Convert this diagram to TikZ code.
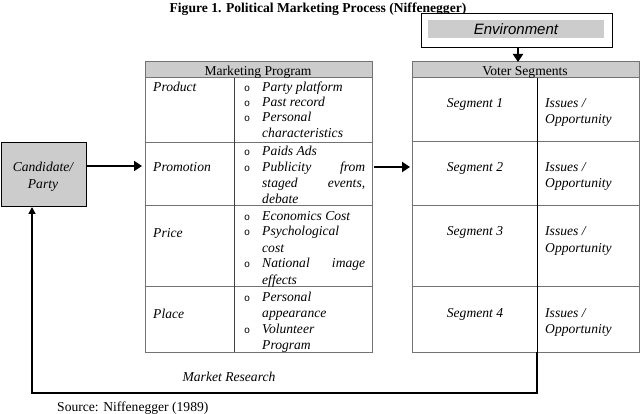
\documentclass[tikz,border=0pt]{standalone}
\usepackage{fontspec}
\setmainfont{Liberation Serif}
\newfontfamily\arialfont{Liberation Sans}
\newfontfamily\bulfont{Liberation Mono}
\usetikzlibrary{arrows.meta}
\newcommand{\jline}[2]{\hbox to 103pt{#1\hfill #2}}
\begin{document}
\begin{tikzpicture}[x=1pt,y=-1pt,
  txt/.style={inner sep=0pt, anchor=base west, yshift=-2pt, font=\fontsize{13.6}{15.5}\selectfont\itshape},
  ctxt/.style={inner sep=0pt, anchor=base, yshift=-2pt, font=\fontsize{13.6}{15.5}\selectfont\itshape},
  htxt/.style={inner sep=0pt, anchor=base, yshift=-1pt, font=\fontsize{13.6}{15.5}\selectfont},
  bul/.style={inner sep=0pt, anchor=base, yshift=-2pt, font=\fontsize{10}{10}\bulfont},
  tline/.style={draw=black!55, line width=1pt},
  hdr/.style={fill=black!20},
  bigarrow/.style={-{Triangle[length=8pt,width=10pt]}, line width=2.6pt},
  fbarrow/.style={-{Triangle[length=7pt,width=7pt]}, line width=1.4pt, draw=black},
  box/.style={inner sep=0pt, anchor=north west},
  ]
\useasboundingbox (0,0) rectangle (640,414);
\fill[white] (0,0) rectangle (640,414);

% title
\node[htxt, font=\fontsize{13.6}{15}\selectfont\bfseries] (title) at (318,12) {Figure 1. Political Marketing Process (Niffenegger)};

% environment
\node[box, draw=black, line width=1.2pt, fill=white, minimum width=191pt, minimum height=34pt] (env) at (421,13) {};
\fill[black!20] (428,20) rectangle (604,38);
\node[inner sep=0pt, anchor=base, font=\fontsize{15}{16}\selectfont\arialfont\itshape] (envtxt) at (516,35) {Environment};

% candidate
\node[box, draw=black, line width=1pt, fill=black!20, minimum width=85.5pt, minimum height=64pt] (cand) at (0.5,142) {};
\node[ctxt] (cand1) at (43,170) {Candidate/};
\node[ctxt] (cand2) at (43,187) {Party};

% marketing program table
\node[box, minimum width=227pt, minimum height=290pt] (mp) at (145,62) {};
\fill[hdr] (145,62) rectangle (372,78);
\draw[tline] (145,62) rectangle (372,352);
\draw[tline] (145,78) -- (372,78);
\draw[tline] (145,143) -- (372,143);
\draw[tline] (145,206) -- (372,206);
\draw[tline] (145,286) -- (372,286);
\draw[tline, draw=black!75] (234,78) -- (234,352);
\node[htxt] (mph) at (258,75) {Marketing Program};

\node[txt] (product) at (153,90) {Product};
\node[bul] (b1) at (247,90) {o};
\node[txt] (p1) at (262,90) {Party platform};
\node[bul] (b2) at (247,105) {o};
\node[txt] (p2) at (262,105) {Past record};
\node[bul] (b3) at (247,120) {o};
\node[txt] (p3) at (262,120) {Personal};
\node[txt] (p4) at (262,136) {characteristics};

\node[txt] (promotion) at (153,170) {Promotion};
\node[bul] (b4) at (247,154) {o};
\node[txt] (q1) at (262,154) {Paids Ads};
\node[bul] (b5) at (247,170) {o};
\node[txt] (q2) at (262,170) {\jline{Publicity}{from}};
\node[txt] (q3) at (262,186) {\jline{staged}{events,}};
\node[txt] (q4) at (262,202) {debate};

\node[txt] (price) at (153,236) {Price};
\node[bul] (b6) at (247,219) {o};
\node[txt] (r1) at (262,219) {Economics Cost};
\node[bul] (b7) at (247,234) {o};
\node[txt] (r2) at (262,234) {Psychological};
\node[txt] (r3) at (262,250) {cost};
\node[bul] (b8) at (247,266) {o};
\node[txt] (r4) at (262,266) {\jline{National}{image}};
\node[txt] (r5) at (262,282) {effects};

\node[txt] (place) at (153,316) {Place};
\node[bul] (b9) at (247,299) {o};
\node[txt] (s1) at (262,299) {Personal};
\node[txt] (s2) at (262,315) {appearance};
\node[bul] (b10) at (247,331) {o};
\node[txt] (s3) at (262,331) {Volunteer};
\node[txt] (s4) at (262,347) {Program};

% voter segments table
\node[box, minimum width=227pt, minimum height=290pt] (vs) at (412,62) {};
\fill[hdr] (412,62) rectangle (639,78);
\draw[tline] (412,62) rectangle (639,352);
\draw[tline] (412,78) -- (639,78);
\draw[tline] (412,142) -- (639,142);
\draw[tline] (412,206) -- (639,206);
\draw[tline] (412,286) -- (639,286);
\draw[line width=1pt, black] (537,78) -- (537,352);
\node[htxt] (vsh) at (525,75) {Voter Segments};

\node[ctxt] (seg1) at (475,106) {Segment 1};
\node[txt] (i1) at (545,106) {Issues /};
\node[txt] (o1) at (545,122) {Opportunity};
\node[ctxt] (seg2) at (475,170) {Segment 2};
\node[txt] (i2) at (545,170) {Issues /};
\node[txt] (o2) at (545,186) {Opportunity};
\node[ctxt] (seg3) at (475,234) {Segment 3};
\node[txt] (i3) at (545,234) {Issues /};
\node[txt] (o3) at (545,250) {Opportunity};
\node[ctxt] (seg4) at (475,315) {Segment 4};
\node[txt] (i4) at (545,315) {Issues /};
\node[txt] (o4) at (545,331) {Opportunity};

% arrows
\draw[bigarrow] (env.south -| 518,0) -- (vs.north -| 518,0);
\draw[bigarrow] (cand.east |- 0,166) -- ([xshift=-3pt]mp.west |- 0,166);
\draw[bigarrow] ([xshift=2pt]mp.east |- 0,167) -- ([xshift=-2pt]vs.west |- 0,167);
\coordinate (fb1) at (537,393);
\coordinate (fb2) at (32,393);
\draw[fbarrow] (vs.south -| 537,0) -- (fb1) -- (fb2) -- (cand.south -| 32,0);

\node[ctxt] (mr) at (229,379) {Market Research};
\node[inner sep=0pt, anchor=base west, font=\fontsize{13.6}{15}\selectfont] (src) at (57,411) {Source: Niffenegger (1989)};
\end{tikzpicture}
\end{document}
